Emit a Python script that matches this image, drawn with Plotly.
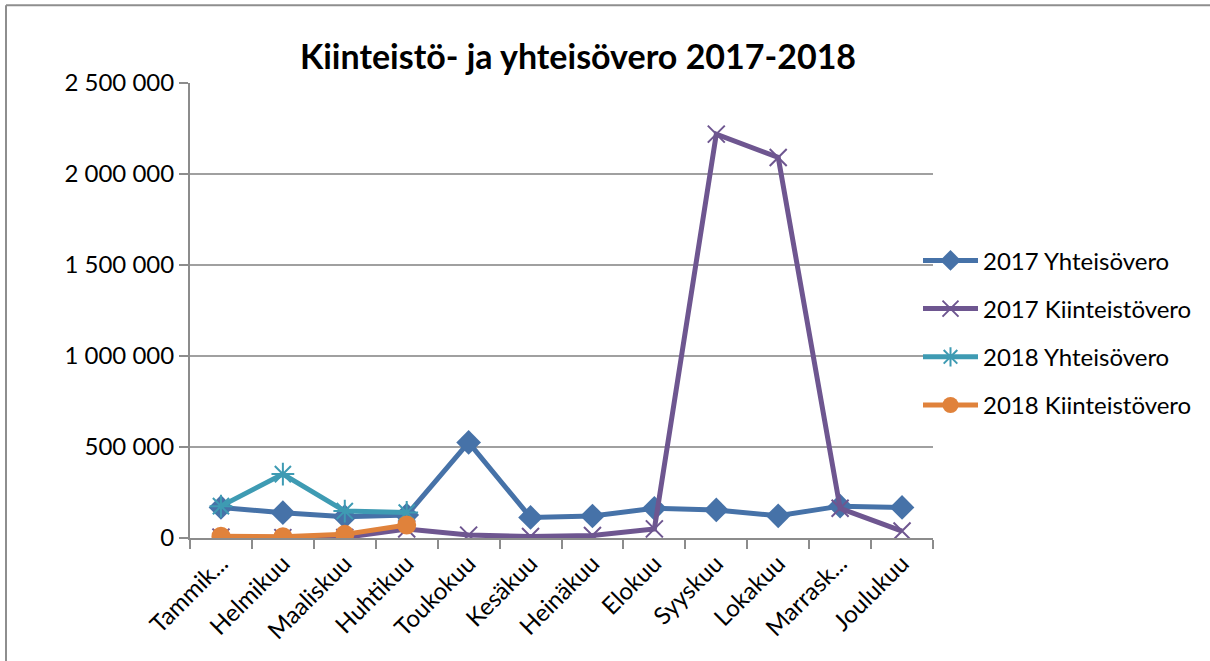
import plotly.graph_objects as go

months = ["Tammik...", "Helmikuu", "Maaliskuu", "Huhtikuu", "Toukokuu", "Kesäkuu",
          "Heinäkuu", "Elokuu", "Syyskuu", "Lokakuu", "Marrask...", "Joulukuu"]

yhteis_2017 = [168000, 139000, 117000, 126000, 525000, 113000, 121000, 163000, 154000, 122000, 175000, 168000]
kiint_2017 = [5000, 2000, 3000, 50000, 16000, 8000, 14000, 50000, 2219000, 2091000, 163000, 38000]
yhteis_2018 = [175000, 351000, 148000, 140000]
kiint_2018 = [10000, 7000, 20000, 71000]

tick_vals = [0, 500000, 1000000, 1500000, 2000000, 2500000]
tick_text = ["0", "500 000", "1 000 000", "1 500 000", "2 000 000", "2 500 000"]

title_text = "Kiinteistö- ja yhteisövero 2017-2018"

FONT = "Lato, Carlito, Calibri, sans-serif"

fig = go.Figure()
fig.add_trace(go.Scatter(x=months, y=yhteis_2017, name="2017 Yhteisövero", mode="lines+markers",
                         legendgroup="a",
                         line=dict(color="#4672A8", width=5),
                         marker=dict(symbol="diamond", size=19, color="#4672A8")))
fig.add_trace(go.Scatter(x=months, y=kiint_2017, name="2017 Kiinteistövero", mode="lines+markers",
                         legendgroup="b",
                         line=dict(color="#6E5690", width=5),
                         marker=dict(symbol="x-thin-open", size=17, color="#6E5690",
                                     line=dict(color="#6E5690", width=2))))
fig.add_trace(go.Scatter(x=months[:len(yhteis_2018)], y=yhteis_2018, name="2018 Yhteisövero",
                         mode="lines+markers", legendgroup="c",
                         line=dict(color="#3E9BB3", width=5),
                         marker=dict(symbol="asterisk-open", size=19, color="#3E9BB3",
                                     line=dict(color="#3E9BB3", width=2))))
fig.add_trace(go.Scatter(x=months[:len(kiint_2018)], y=kiint_2018, name="2018 Kiinteistövero",
                         mode="lines+markers", legendgroup="d",
                         line=dict(color="#E0823B", width=5),
                         marker=dict(symbol="circle", size=19, color="#E0823B")))

W, H = 1210, 661
L, R, T, B = 190, 933, 82.7, 537.7
pw, ph = R - L, B - T


def px(x):
    return (x - L) / pw


def py(y):
    return (B - y) / ph


fig.update_layout(
    width=W, height=H,
    margin=dict(l=L, r=W - R, t=T, b=H - B, autoexpand=False),
    paper_bgcolor="white", plot_bgcolor="white",
    font=dict(family=FONT, size=24, color="black"),
    title=dict(text="<b>" + title_text + "</b>", x=578 / W, xref="container", xanchor="center",
               y=1 - 57 / H, yref="container", yanchor="middle",
               font=dict(family=FONT, size=34, color="black")),
    showlegend=True,
    legend=dict(x=px(918), y=py(238), xanchor="left", yanchor="top",
                traceorder="grouped", tracegroupgap=14, itemwidth=55,
                font=dict(family=FONT, size=24, color="black"),
                bgcolor="rgba(0,0,0,0)"),
    xaxis=dict(type="category", categoryorder="array", categoryarray=months,
               range=[-0.5, len(months) - 0.5],
               showgrid=False, showline=True, linecolor="#8C8C8C", linewidth=2,
               ticks="outside", tickson="boundaries", ticklen=9, tickcolor="#8C8C8C", tickwidth=2,
               tickangle=-45, tickfont=dict(family=FONT, size=24, color="black"),
               zeroline=False),
    yaxis=dict(range=[0, 2500000], tickvals=tick_vals, ticktext=tick_text,
               showgrid=True, gridcolor="#A0A0A0", gridwidth=2,
               showline=True, linecolor="#8C8C8C", linewidth=2,
               ticks="outside", ticklen=9, tickcolor="#8C8C8C", tickwidth=2,
               tickfont=dict(family=FONT, size=24, color="black"),
               zeroline=False),
    shapes=[
        dict(type="line", xref="paper", yref="paper", x0=px(6), x1=px(1212), y0=py(5), y1=py(5),
             line=dict(color="#8E8E8E", width=2)),
        dict(type="line", xref="paper", yref="paper", x0=px(6), x1=px(6), y0=py(5), y1=py(665),
             line=dict(color="#8E8E8E", width=2)),
    ],
)

fig.write_html("out.html", config={"displayModeBar": False},
               post_script="document.body.style.margin='0';")
